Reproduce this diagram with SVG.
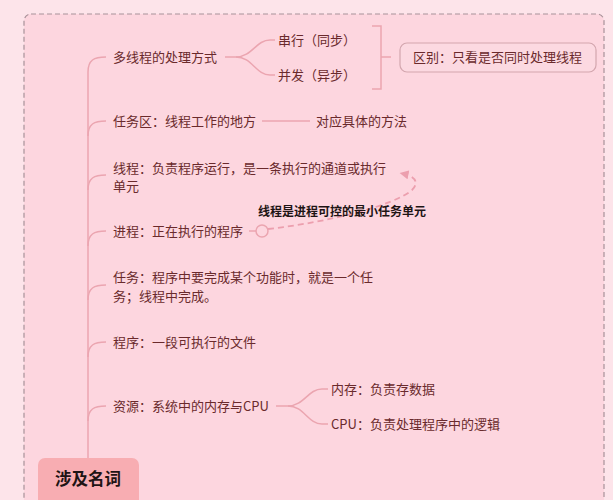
<svg xmlns="http://www.w3.org/2000/svg" width="613" height="500" viewBox="0 0 613 500">
<defs>
<style>
.t{font-family:"Noto Sans CJK SC","Noto Sans",sans-serif;font-size:13px;fill:#6a2a2c;}
.b{font-family:"Noto Sans CJK SC","Noto Sans",sans-serif;font-weight:bold;fill:#1e1414;}
.ln{fill:none;stroke:#eba5b0;stroke-width:1.5;}
.dash{fill:none;stroke:#ec9fae;stroke-width:1.8;stroke-dasharray:6 4;}
</style>
<marker id="arr" viewBox="0 0 10 10" refX="5" refY="5" markerWidth="5" markerHeight="5" orient="auto">
<path d="M0,0 L10,5 L0,10 z" fill="#ec9fae"/>
</marker>
</defs>
<rect x="0" y="0" width="613" height="500" fill="#fde4ea"/>
<rect id="container" x="24" y="14" width="580" height="510" rx="7" fill="#fdd6df" stroke="#a89299" stroke-width="1.2" stroke-dasharray="5 3"/>

<g id="connectors">
<path class="ln" d="M88,72 V500"/>
<path class="ln" d="M88,72 C88,60 94,57 106,57"/>
<path class="ln" d="M88,136 C88,124 94,121 106,121"/>
<path class="ln" d="M88,190 C88,178 94,175 106,175"/>
<path class="ln" d="M88,246 C88,234 94,231 106,231"/>
<path class="ln" d="M88,300 C88,288 94,285 106,285"/>
<path class="ln" d="M88,357 C88,345 94,342 106,342"/>
<path class="ln" d="M88,421 C88,409 94,406 106,406"/>
<path class="ln" d="M225,57 H236 C252,57 256,40 270,40 H275"/>
<path class="ln" d="M236,57 C252,57 256,75 270,75 H275"/>
<path class="ln" d="M372,26 H381 V89 H372 M381,57 H391"/>
<path class="ln" d="M262,121 H310"/>
<path class="ln" d="M249,231 H256"/>
<circle cx="262" cy="231" r="6" class="ln"/>
<path class="dash" d="M268,229 C330,222 395,205 412,190 C420,182 414,176 404,174" marker-end="url(#arr)"/>
<path class="ln" d="M276,406 H288 C304,406 308,389 322,389 H328"/>
<path class="ln" d="M288,406 C304,406 308,424 322,424 H328"/>
</g>

<g id="n1"><text class="t" x="113" y="62">多线程的处理方式</text></g>
<g id="n1a"><text class="t" x="278" y="45">串行（同步）</text></g>
<g id="n1b"><text class="t" x="278" y="80">并发（异步）</text></g>
<g id="n1c"><rect x="400" y="43" width="196" height="29" rx="7" fill="#fcd9e1" stroke="#d3a6ae" stroke-width="1.2"/><text class="t" x="413" y="62">区别：只看是否同时处理线程</text></g>
<g id="n2"><text class="t" x="113" y="126">任务区：线程工作的地方</text></g>
<g id="n2a"><text class="t" x="316" y="126">对应具体的方法</text></g>
<g id="n3"><text class="t" x="113" y="173">线程：负责程序运行，是一条执行的通道或执行</text><text class="t" x="113" y="191">单元</text></g>
<g id="n4"><text class="t" x="113" y="236">进程：正在执行的程序</text></g>
<g id="rel"><text class="b" x="258" y="216" font-size="12">线程是进程可控的最小任务单元</text></g>
<g id="n5"><text class="t" x="113" y="282">任务：程序中要完成某个功能时，就是一个任</text><text class="t" x="113" y="301">务；线程中完成。</text></g>
<g id="n6"><text class="t" x="113" y="347">程序：一段可执行的文件</text></g>
<g id="n7"><text class="t" x="113" y="411">资源：系统中的内存与CPU</text></g>
<g id="n7a"><text class="t" x="331" y="394">内存：负责存数据</text></g>
<g id="n7b"><text class="t" x="331" y="429">CPU：负责处理程序中的逻辑</text></g>
<g id="root"><rect x="38" y="458" width="101" height="60" rx="7" fill="#f8adb2"/><text class="b" x="55" y="485" font-size="16.5">涉及名词</text></g>
</svg>
